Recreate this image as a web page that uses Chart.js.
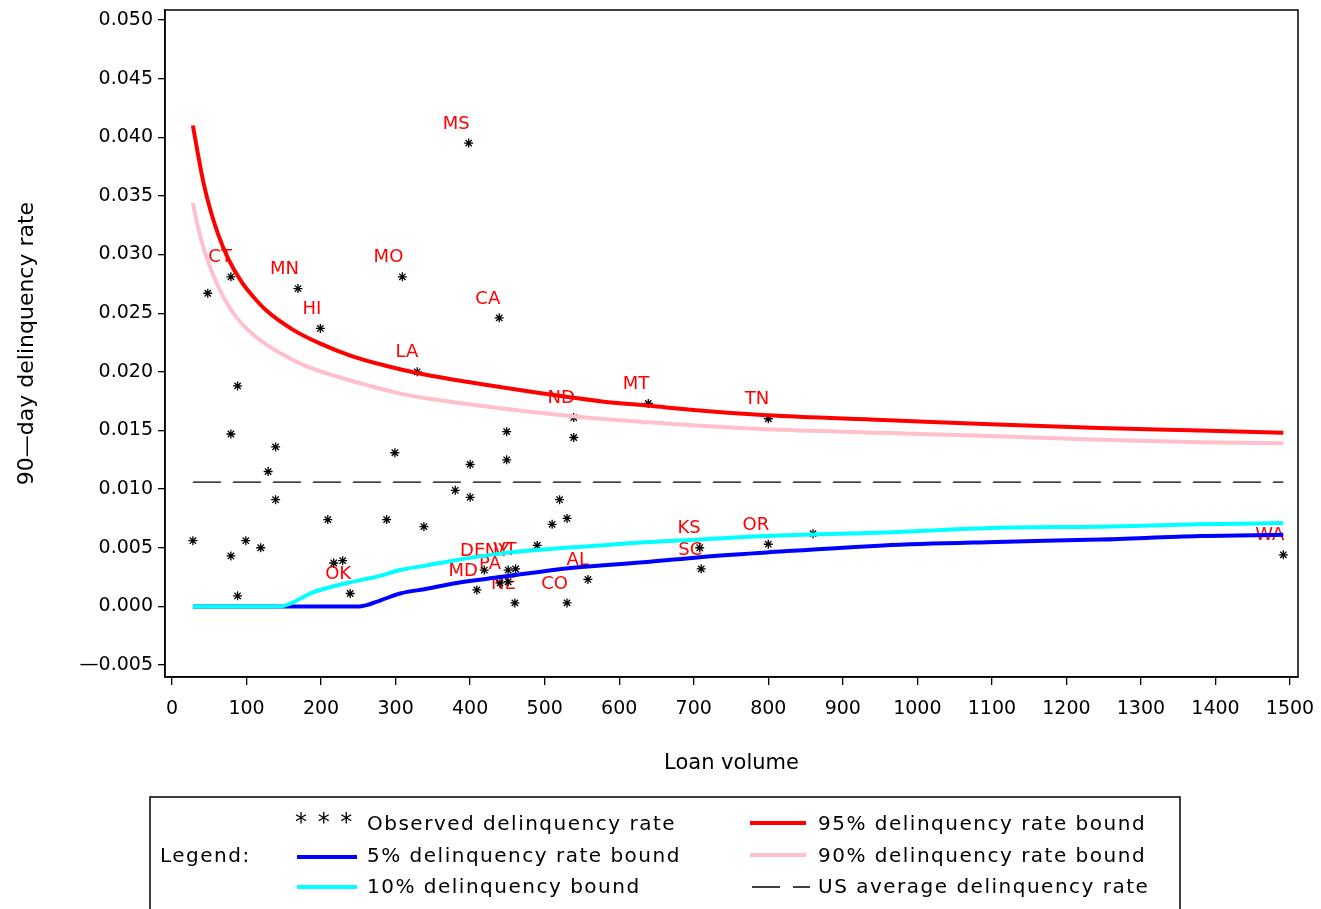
<!DOCTYPE html>
<html>
<head>
<meta charset="utf-8">
<script src="https://cdn.jsdelivr.net/npm/chart.js@4.4.0/dist/chart.umd.min.js"></script>
<style>
  html, body { margin: 0; padding: 0; background: #fff; }
  #wrap { position: relative; width: 1321px; height: 909px; }
</style>
</head>
<body>
<div id="wrap"><canvas id="chart"></canvas></div>
<script>
// observed delinquency rate per state (loan volume, rate, label)
const stateX = [28, 48, 79, 79, 79, 88, 88, 99, 119, 129, 139, 139, 169, 199, 209, 217, 229, 239,
  288, 299, 309, 329, 338, 380, 398, 400, 400, 409, 419, 439, 440, 449, 449, 451, 451, 461, 460,
  490, 510, 520, 530, 530, 539, 539, 558, 639, 708, 710, 800, 800, 860, 1491];
const stateY = [0.0056, 0.0267, 0.0281, 0.0147, 0.0043, 0.0188, 0.0009, 0.0056, 0.0050, 0.0115,
  0.0136, 0.0091, 0.0271, 0.0237, 0.0074, 0.0037, 0.0039, 0.0011, 0.0074, 0.0131, 0.0281, 0.0200,
  0.0068, 0.0099, 0.0395, 0.0121, 0.0093, 0.0014, 0.0031, 0.0246, 0.0020, 0.0149, 0.0125, 0.0021,
  0.0031, 0.0032, 0.0003, 0.0052, 0.0070, 0.0091, 0.0075, 0.0003, 0.0161, 0.0144, 0.0023, 0.0173,
  0.0050, 0.0032, 0.0160, 0.0053, 0.0062, 0.0044];
const stateLabel = ['', '', 'CT', '', '', '', '', '', '', '', '', '', 'MN', 'HI', '', '', '', 'OK',
  '', '', 'MO', 'LA', '', '', 'MS', '', '', 'MD', 'DE', 'CA', 'PA', '', '', '', 'NY', 'VT', 'NE',
  '', '', '', '', 'CO', 'ND', '', 'AL', 'MT', 'KS', 'SC', 'TN', 'OR', '', 'WA'];

// bounds
const upper95X = [28, 35, 42, 51, 62, 75, 94, 109, 127, 162, 199, 243, 288, 329, 440, 574, 641, 708, 798, 954, 1107, 1245, 1379, 1491];
const upper95Y = [0.0410, 0.0385, 0.0362, 0.0339, 0.0317, 0.0297, 0.0276, 0.0264, 0.0252, 0.0236, 0.0224, 0.0213, 0.0205, 0.0199,
  0.0187, 0.0175, 0.0171, 0.0167, 0.0163, 0.0159, 0.0155, 0.0152, 0.0150, 0.0148];
const upper90X = [28, 35, 44, 55, 68, 87, 114, 145, 176, 221, 266, 310, 346, 440, 574, 641, 708, 798, 954, 1107, 1245, 1379, 1491];
const upper90Y = [0.0344, 0.0323, 0.0302, 0.0283, 0.0265, 0.0246, 0.0229, 0.0216, 0.0206, 0.0196, 0.0188, 0.0181, 0.0177,
  0.0169, 0.0160, 0.0157, 0.0154, 0.0151, 0.0148, 0.0145, 0.0142, 0.0140, 0.0139];
const lower5X = [28, 252, 279, 306, 342, 382, 440, 538, 641, 708, 798, 954, 1107, 1245, 1379, 1491];
const lower5Y = [0, 0, 0.0005, 0.0011, 0.0015, 0.0020, 0.0025, 0.0033, 0.0038, 0.0042, 0.0046, 0.0052, 0.0055, 0.0057, 0.0060, 0.0061];
const lower10X = [28, 145, 189, 235, 279, 306, 342, 377, 440, 574, 641, 708, 798, 954, 1107, 1245, 1379, 1491];
const lower10Y = [0, 0, 0.0012, 0.0020, 0.0026, 0.0031, 0.0035, 0.0039, 0.0045, 0.0052, 0.0055, 0.0057, 0.0060, 0.0063, 0.0067, 0.0068, 0.0070, 0.0071];
const usAverageX = [28, 1491];
const usAverage = 0.0106;

const xTicks = [0, 100, 200, 300, 400, 500, 600, 700, 800, 900, 1000, 1100, 1200, 1300, 1400, 1500];
const yTicks = [-0.005, 0, 0.005, 0.010, 0.015, 0.020, 0.025, 0.030, 0.035, 0.040, 0.045, 0.050];

const FONT = "'DejaVu Sans', sans-serif";
const toPoints = (xs, ys) => xs.map((x, i) => ({ x: x, y: ys[i] }));

// frame round the plot area
const framePlugin = {
  id: 'frame',
  afterDraw(chart) {
    const { ctx, chartArea: a } = chart;
    ctx.save();
    ctx.strokeStyle = '#000';
    ctx.lineWidth = 1.5;
    ctx.strokeRect(a.left, a.top, a.right - a.left, a.bottom - a.top);
    ctx.restore();
  }
};

// red state codes, right aligned above their asterisk
const stateLabelPlugin = {
  id: 'stateLabels',
  beforeDatasetsDraw(chart) {
    const { ctx, scales: { x, y } } = chart;
    ctx.save();
    ctx.fillStyle = '#ff0000';
    ctx.font = '18px ' + FONT;
    ctx.textAlign = 'right';
    ctx.textBaseline = 'middle';
    stateLabel.forEach((lab, i) => {
      if (!lab) return;
      ctx.fillText(lab, x.getPixelForValue(stateX[i]) + 1, y.getPixelForValue(stateY[i]) - 19);
    });
    ctx.restore();
  }
};

// SAS style legend box under the chart
const legendBoxPlugin = {
  id: 'legendBox',
  afterDraw(chart) {
    const ctx = chart.ctx;
    ctx.save();
    ctx.strokeStyle = '#000';
    ctx.lineWidth = 1.5;
    ctx.strokeRect(150, 797, 1030, 200);
    ctx.fillStyle = '#000';
    ctx.font = '20px ' + FONT;
    ctx.letterSpacing = '1.5px';
    ctx.textBaseline = 'middle';
    ctx.textAlign = 'left';
    ctx.fillText('Legend:', 160, 857);

    const line = (x1, x2, y, color, width, dash) => {
      ctx.beginPath();
      ctx.strokeStyle = color;
      ctx.lineWidth = width;
      ctx.setLineDash(dash || []);
      ctx.moveTo(x1, y);
      ctx.lineTo(x2, y);
      ctx.stroke();
      ctx.setLineDash([]);
    };
    ctx.font = '24px ' + FONT;
    ctx.fillText('* * *', 295, 824);
    ctx.font = '20px ' + FONT;
    ctx.fillText('Observed delinquency rate', 367, 825);
    line(297, 357, 857, '#0000ff', 4);
    ctx.fillText('5% delinquency rate bound', 367, 857);
    line(297, 357, 887, '#00ffff', 4);
    ctx.fillText('10% delinquency bound', 367, 888);

    line(750, 806, 823, '#ff0000', 4);
    ctx.fillText('95% delinquency rate bound', 818, 825);
    line(750, 806, 855, '#ffc0cb', 4);
    ctx.fillText('90% delinquency rate bound', 818, 857);
    line(752, 810, 887, '#000', 1.3, [28, 13]);
    ctx.fillText('US average delinquency rate', 818, 888);
    ctx.restore();
  }
};

const boundLine = (label, xs, ys, color, order) => ({
  label: label, data: toPoints(xs, ys), showLine: true, borderColor: color, borderWidth: 4,
  pointRadius: 0, cubicInterpolationMode: 'monotone', order: order
});

const ctx = document.getElementById('chart').getContext('2d');
new Chart(ctx, {
  type: 'scatter',
  data: {
    datasets: [
      boundLine('10% delinquency bound', lower10X, lower10Y, '#00ffff', 1),
      boundLine('5% delinquency rate bound', lower5X, lower5Y, '#0000ff', 2),
      boundLine('95% delinquency rate bound', upper95X, upper95Y, '#ff0000', 3),
      boundLine('90% delinquency rate bound', upper90X, upper90Y, '#ffc0cb', 4),
      { label: 'US average delinquency rate', data: usAverageX.map(x => ({ x: x, y: usAverage })), showLine: true,
        borderColor: '#000', borderWidth: 1.3, borderDash: [28, 12], pointRadius: 0, order: 5 },
      { label: 'Observed delinquency rate', data: toPoints(stateX, stateY), showLine: false,
        pointStyle: 'star', pointRadius: 4.5, borderColor: '#000', borderWidth: 1.3, order: 6 }
    ]
  },
  options: {
    responsive: true,
    maintainAspectRatio: false,
    animation: false,
    layout: { padding: { top: 10, right: 23, bottom: 119, left: 0 } },
    plugins: { legend: { display: false }, tooltip: { enabled: false } },
    scales: {
      x: {
        type: 'linear',
        min: -9.4,
        max: 1510.7,
        afterBuildTicks: s => { s.ticks = xTicks.map(v => ({ value: v })); },
        afterFit: s => { s.height = 113; s.paddingLeft = 0; s.paddingRight = 0; },
        ticks: { color: '#000', font: { family: FONT, size: 19 }, padding: 13, maxRotation: 0, autoSkip: false,
          callback: v => String(v) },
        grid: { drawOnChartArea: false, tickLength: 8, color: '#000', lineWidth: 1.3 },
        border: { color: '#000', width: 1.5 },
        title: { display: true, text: 'Loan volume', color: '#000', font: { family: FONT, size: 21 },
          padding: { top: 0, bottom: 14 } }
      },
      y: {
        type: 'linear',
        min: -0.00602,
        max: 0.05085,
        afterBuildTicks: s => { s.ticks = yTicks.map(v => ({ value: v })); },
        afterFit: s => { s.width = 165; s.paddingTop = 0; s.paddingBottom = 0; },
        ticks: {
          color: '#000', font: { family: FONT, size: 19 }, padding: 5, autoSkip: false,
          callback: v => (v < 0 ? '\u2014' : '') + Math.abs(v).toFixed(3)
        },
        grid: { drawOnChartArea: false, tickLength: 7, color: '#000', lineWidth: 1.3 },
        border: { color: '#000', width: 1.5 },
        title: { display: true, text: '90\u2014day delinquency rate', color: '#000', font: { family: FONT, size: 22 },
          padding: { top: 14, bottom: 0 } }
      }
    }
  },
  plugins: [framePlugin, stateLabelPlugin, legendBoxPlugin]
});
</script>
</body>
</html>
